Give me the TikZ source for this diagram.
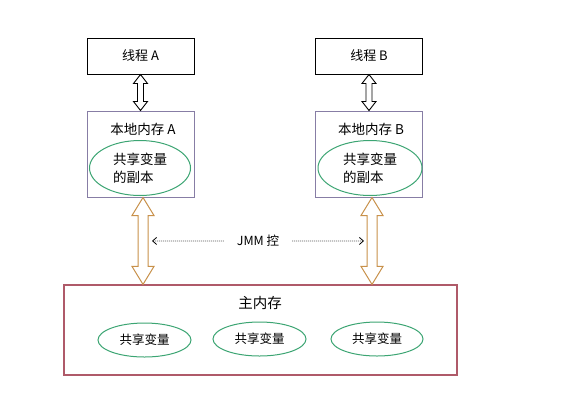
\documentclass[tikz,border=0pt]{standalone}
\usepackage{fontspec}
\setmainfont{Noto Sans CJK SC}
\usetikzlibrary{calc,arrows.meta}
\definecolor{lmcol}{RGB}{135,125,165}
\definecolor{elcol}{RGB}{60,165,115}
\definecolor{mmcol}{RGB}{175,90,105}
\definecolor{arcol}{RGB}{200,145,75}
\tikzset{
  threadbox/.style={draw=black, line width=1pt, minimum width=107pt, minimum height=36pt, font=\fontsize{13}{15}\selectfont},
  localbox/.style={draw=lmcol, line width=1pt, minimum width=107pt, minimum height=86pt},
  varell/.style={draw=elcol, line width=1pt, ellipse, font=\fontsize{12.5}{14}\selectfont},
  fat/.style={draw=arcol, line width=1pt, fill=white, line join=miter},
  thin/.style={draw=black, line width=0.9pt, fill=white, line join=miter},
  dots/.style={dash pattern=on 0.8pt off 1.2pt, line width=0.8pt, -{Straight Barb[length=4pt,width=7pt]}},
}
\usetikzlibrary{shapes.geometric}
\newcommand{\dblarr}[6]{% style, top, bottom, headhalf, shafthalf, headlen
  \draw[#1] (#2) -- ($(#2)+(#4,#6)$) -- ($(#2)+(#5,#6)$) -- ($(#3)+(#5,-#6)$) -- ($(#3)+(#4,-#6)$) -- (#3)
    -- ($(#3)+(-#4,-#6)$) -- ($(#3)+(-#5,-#6)$) -- ($(#2)+(-#5,#6)$) -- ($(#2)+(-#4,#6)$) -- cycle;}
\begin{document}
\begin{tikzpicture}[x=1pt,y=-1pt]
\useasboundingbox[fill=white] (0,0) rectangle (588,413);
% threads
\node[threadbox] (ta) at (140.5,56) {线程 A};
\node[threadbox] (tb) at (369,56) {线程 B};
% local memories
\node[localbox] (la) at (140.5,154) {};
\node[localbox] (lb) at (369,154) {};
\node[font=\fontsize{13.5}{15}\selectfont] (lat) at (143,129) {本地内存 A};
\node[font=\fontsize{13.5}{15}\selectfont] (lbt) at (371,129) {本地内存 B};
\node[varell, minimum width=101pt, minimum height=55pt, align=left, font=\fontsize{13.5}{18}\selectfont] (ea) at (140,168) {共享变量\\的副本};
\node[varell, minimum width=104pt, minimum height=55pt, align=left, font=\fontsize{13.5}{18}\selectfont] (eb) at (370,168) {共享变量\\的副本};
% main memory
\node[draw=mmcol, line width=1.2pt, minimum width=393pt, minimum height=90pt] (mm) at (260.5,330) {};
\node[font=\fontsize{14.5}{16}\selectfont] (mmt) at (260,303) {主内存};
\node[varell, minimum width=93pt, minimum height=34pt] (v1) at (144.5,340) {共享变量};
\node[varell, minimum width=93pt, minimum height=34pt] (v2) at (259.5,339) {共享变量};
\node[varell, minimum width=92pt, minimum height=34pt] (v3) at (377,339) {共享变量};
% thread <-> local arrows
\dblarr{thin}{ta.south}{la.north}{7}{3}{9}
\dblarr{thin}{tb.south}{lb.north}{7}{3}{9}
% local <-> main fat arrows
\coordinate (t1) at ($(la.south)+(2.5,0)$);
\coordinate (b1) at (t1 |- mm.north);
\coordinate (t2) at ($(lb.south)+(3,0)$);
\coordinate (b2) at (t2 |- mm.north);
\dblarr{fat}{t1}{b1}{11}{5}{18}
\dblarr{fat}{t2}{b2}{11}{5}{18}
% JMM control
\coordinate (jl) at ($(t1)!0.5!(b1)+(9,0)$);
\coordinate (jr) at ($(t2)!0.5!(b2)+(-8,0)$);
\node[font=\fontsize{12.5}{14}\selectfont, inner xsep=13pt] (jmm) at ($(jl)!0.5!(jr)$) {JMM 控};
\draw[dots] (jmm.west) -- (jl);
\draw[dots] (jmm.east) -- (jr);
\end{tikzpicture}
\end{document}
